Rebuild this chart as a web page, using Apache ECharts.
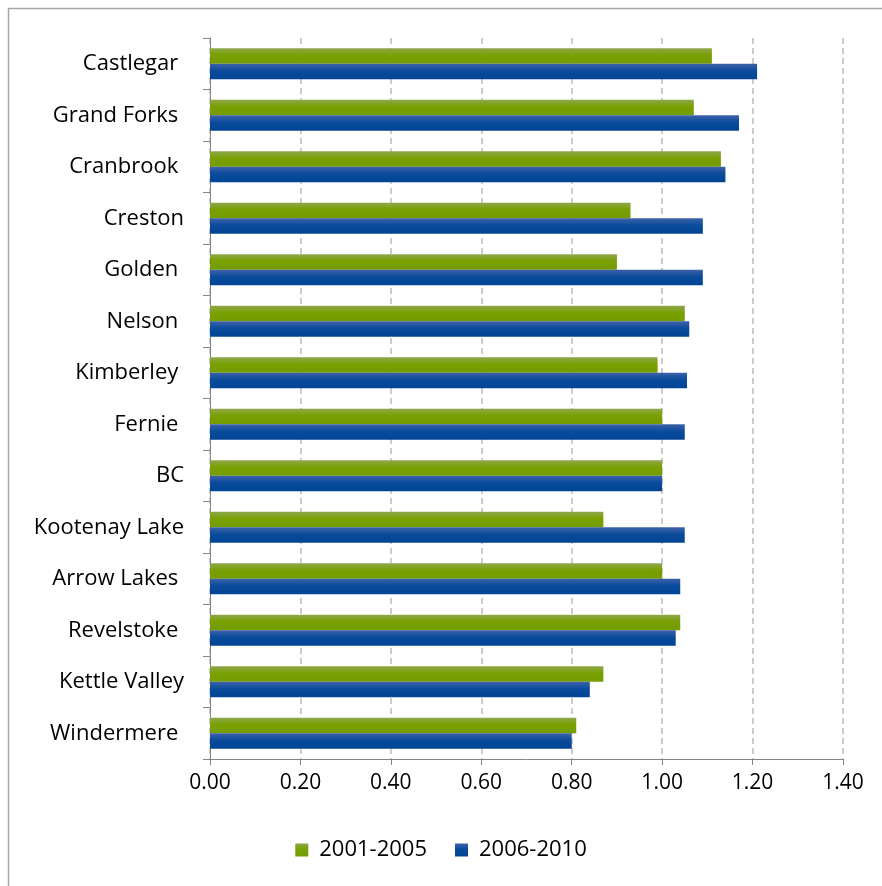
<!DOCTYPE html>
<html>
<head>
<meta charset="utf-8">
<script src="https://cdn.jsdelivr.net/npm/echarts@6/dist/echarts.min.js"></script>
<style>
  html, body { margin: 0; padding: 0; background: #fff; }
  #chart { width: 882px; height: 886px; }
</style>
</head>
<body>
<div id="chart"></div>
<script>
// Communities, listed top to bottom
const categories = [
  'Castlegar ', 'Grand Forks ', 'Cranbrook ', 'Creston', 'Golden ',
  'Nelson ', 'Kimberley ', 'Fernie ', 'BC', 'Kootenay Lake',
  'Arrow Lakes ', 'Revelstoke ', 'Kettle Valley', 'Windermere '
];
const series2001_2005 = [1.11, 1.07, 1.13, 0.93, 0.90, 1.05, 0.99, 1.00, 1.00, 0.87, 1.00, 1.04, 0.87, 0.81];
const series2006_2010 = [1.21, 1.17, 1.14, 1.09, 1.09, 1.06, 1.055, 1.05, 1.00, 1.05, 1.04, 1.03, 0.84, 0.80];
const xTicks = { min: 0, max: 1.4, interval: 0.2 };

const FONT = 'Open Sans';

function barGradient(top, mid, bottom) {
  return new echarts.graphic.LinearGradient(0, 0, 0, 1, [
    { offset: 0, color: top },
    { offset: 0.45, color: mid },
    { offset: 1, color: bottom }
  ]);
}

const chart = echarts.init(document.getElementById('chart'), null, { renderer: 'canvas' });

chart.setOption({
  backgroundColor: '#ffffff',
  animation: false,
  textStyle: { fontFamily: FONT },
  graphic: [{
    type: 'rect',
    shape: { x: 8.5, y: 8.5, width: 900, height: 900 },
    style: { fill: 'none', stroke: '#a6a6a6', lineWidth: 1.5 },
    silent: true
  }],
  legend: {
    bottom: 20,
    left: 'center',
    itemWidth: 13,
    itemHeight: 13,
    itemGap: 28,
    icon: 'rect',
    textStyle: { fontFamily: FONT, fontSize: 22, color: '#000', padding: [0, 0, 0, 6] },
    data: ['2001-2005', '2006-2010']
  },
  grid: { left: 210, right: 39, top: 38, bottom: 127, containLabel: false },
  xAxis: {
    type: 'value',
    min: xTicks.min,
    max: xTicks.max,
    interval: xTicks.interval,
    axisLine: { show: true, lineStyle: { color: '#868686', width: 1 } },
    axisTick: { show: true, length: 6, lineStyle: { color: '#868686' } },
    axisLabel: {
      margin: 14,
      fontFamily: FONT, fontSize: 21, color: '#000',
      formatter: v => v.toFixed(2)
    },
    splitLine: { show: true, lineStyle: { color: '#bcbcbc', type: [6, 4], width: 1.5 } }
  },
  yAxis: {
    type: 'category',
    inverse: true,
    data: categories,
    axisLine: { show: true, lineStyle: { color: '#868686', width: 1 } },
    axisTick: { show: true, length: 7, lineStyle: { color: '#868686' } },
    axisLabel: { margin: 26, fontFamily: FONT, fontSize: 22, color: '#000' },
    splitLine: { show: false }
  },
  series: [
    {
      name: '2001-2005',
      type: 'bar',
      data: series2001_2005,
      barWidth: 15.6,
      barGap: '0%',
      itemStyle: { color: barGradient('#8fa74e', '#78a000', '#749c00') }
    },
    {
      name: '2006-2010',
      type: 'bar',
      data: series2006_2010,
      barWidth: 15.6,
      barGap: '0%',
      itemStyle: { color: barGradient('#3e62a8', '#0a4b9c', '#004494') }
    }
  ]
});
</script>
</body>
</html>
